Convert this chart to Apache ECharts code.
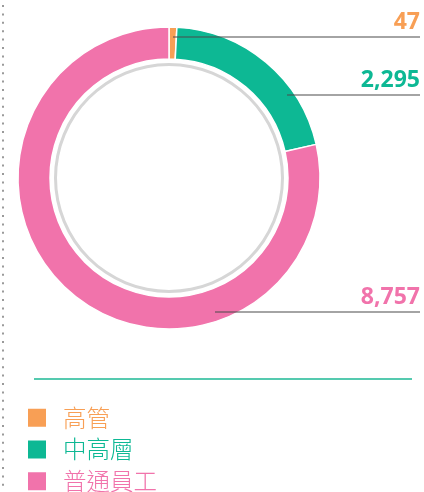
<!DOCTYPE html>
<html>
<head>
<meta charset="utf-8">
<script src="https://cdn.jsdelivr.net/npm/echarts@6/dist/echarts.min.js"></script>
<style>
  html, body { margin: 0; padding: 0; background: #fff; }
  #main { width: 424px; height: 492px; }
</style>
</head>
<body>
<div id="main"></div>
<script>
  // 資料
  const categories = ['高管', '中高層', '普通員工'];
  const values = [47, 2295, 8757];
  const colors = ['#F89F55', '#0DB894', '#F173AB'];

  // 標籤線位置 (y, 起點x)
  const labelLineY = [37, 95, 312];
  const labelLineX = [173, 287, 215];
  const rightEdge = 420;

  let myChart = echarts.init(document.getElementById('main'));

  let option = {
    animation: false,
    legend: {
      orient: 'vertical',
      left: 26,
      top: 406,
      height: 100,
      padding: 0,
      itemWidth: 20,
      itemHeight: 20,
      itemGap: 8.2,
      icon: 'rect',
      selectedMode: false,
      data: categories.map((c, i) => ({
        name: c,
        textStyle: { color: colors[i] }
      })),
      textStyle: {
        fontFamily: 'Noto Sans CJK TC',
        fontSize: 23.5,
        fontWeight: 300,
        lineHeight: 20,
        padding: [0, 0, 0, 11]
      }
    },
    graphic: [
      {
        type: 'line',
        shape: { x1: 3, y1: 5, x2: 3, y2: 492 },
        style: { stroke: '#9a9a9a', lineWidth: 2, lineDash: [2, 6.4] }
      },
      {
        type: 'line',
        shape: { x1: 34, y1: 379, x2: 412, y2: 379 },
        style: { stroke: '#1DB894', lineWidth: 1.5 }
      }
    ],
    series: [
      {
        type: 'pie',
        silent: true,
        center: [169, 178],
        radius: [112, 115],
        label: { show: false },
        labelLine: { show: false },
        itemStyle: { color: '#d6d6d6' },
        data: [{ value: 1, name: '' }]
      },
      {
        // 扇形
        type: 'pie',
        center: [169, 178],
        radius: [119, 151],
        startAngle: 90,
        minAngle: 3,
        silent: true,
        itemStyle: { borderColor: '#fff', borderWidth: 1.5 },
        label: { show: false },
        labelLine: { show: false },
        data: categories.map((c, i) => ({
          name: c,
          value: values[i],
          itemStyle: { color: colors[i] }
        }))
      },
      {
        // 標籤與引線 (畫在扇形上面)
        type: 'pie',
        z: 5,
        center: [169, 178],
        radius: [119, 151],
        startAngle: 90,
        minAngle: 3,
        silent: true,
        legendHoverLink: false,
        itemStyle: { color: 'rgba(0,0,0,0)', borderWidth: 0 },
        label: {
          show: true,
          position: 'outside',
          alignTo: 'none',
          overflow: 'none',
          fontFamily: 'Open Sans',
          fontWeight: 'bold',
          fontSize: 23,
          formatter: p => p.value.toLocaleString('en-US')
        },
        labelLine: {
          show: true,
          lineStyle: { color: '#4a4a4a', width: 1.1 }
        },
        labelLayout: function (params) {
          const i = params.dataIndex;
          const y = labelLineY[i];
          return {
            x: rightEdge,
            y: y - 3,
            align: 'right',
            verticalAlign: 'bottom',
            labelLinePoints: [[labelLineX[i], y], [rightEdge - 0.5, y], [rightEdge, y]]
          };
        },
        data: categories.map((c, i) => ({
          name: c,
          value: values[i],
          label: { color: colors[i] }
        }))
      }
    ]
  };

  myChart.setOption(option);
</script>
</body>
</html>
